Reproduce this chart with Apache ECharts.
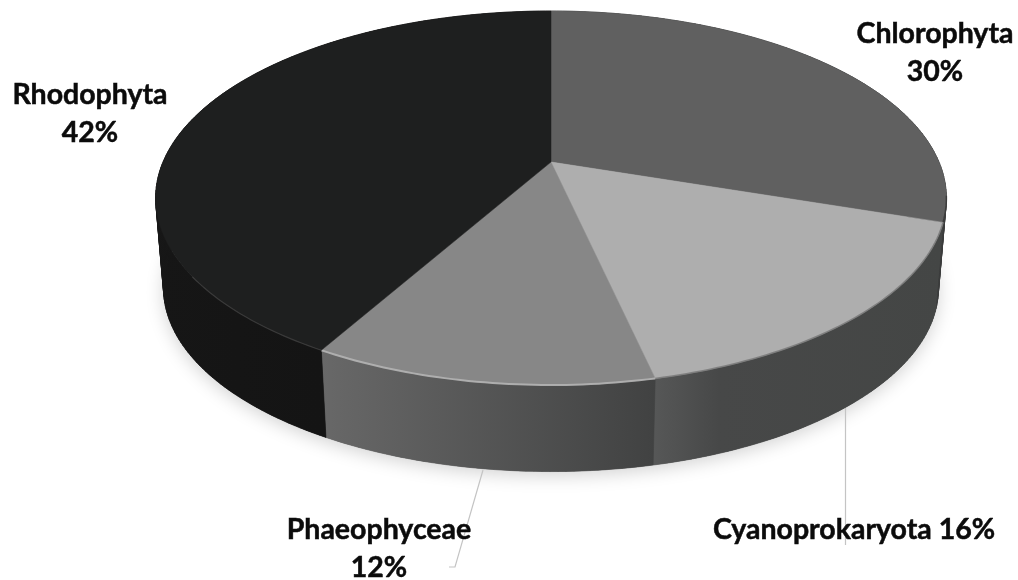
<!DOCTYPE html>
<html><head><meta charset="utf-8">
<style>html,body{margin:0;padding:0;background:#fff}#c{width:1018px;height:580px}</style>
<script src="https://cdn.jsdelivr.net/npm/echarts@6/dist/echarts.min.js"></script>
</head><body><div id="c"></div>
<script>
// Data (labels show the rounded percentages)
var categories = ['Chlorophyta', 'Cyanoprokaryota', 'Phaeophyceae', 'Rhodophyta'];
var values = [30.1, 16.4, 11.7, 41.8];

// Styles
var topColors = ['#606060', '#aeaeae', '#878787', '#1e1f1f'];
var wallStops = [
  [[0, '#3a3b3b'], [1, '#3a3b3b']],
  [[0, '#565757'], [0.22, '#474848'], [1, '#444645']],
  [[0, '#686868'], [1, '#414242']],
  [[0, '#161616'], [1, '#141414']]
];
var rimColors = ['#3a3a3a', '#7c7c7c', '#b4b4b4', '#3c3c3c'];
var rimWidths = [1.5, 1.5, 2, 1.2];
var rimStartY = [195, 195, 195, 275];

// Projection of the disc
var P = {cx: 551, cy: 162, R: 388, a: 148.9, c: -0.1925, wallScale: 0.98, wallCy: 253};
function project(deg) {
  var t = deg * Math.PI / 180, u = Math.sin(t), v = -Math.cos(t), d = 1 + P.c * v;
  return [P.cx + P.R * u / d, (P.a * v + P.cy) / d];
}
function lower(p) {
  return [P.cx + (p[0] - P.cx) * P.wallScale, P.wallCy + (p[1] - P.cy) * P.wallScale];
}
var total = values.reduce(function (s, v) { return s + v; }, 0);
function sliceRange(i) {
  var before = 0;
  for (var k = 0; k < i; k++) before += values[k];
  return [before / total * 360, (before + values[i]) / total * 360];
}
function arc(a0, a1) {
  var pts = [], n = Math.max(2, Math.ceil(Math.abs(a1 - a0)));
  for (var k = 0; k <= n; k++) pts.push(project(a0 + (a1 - a0) * k / n));
  return pts;
}
function toPx(api, pts) { return pts.map(function (p) { return api.coord(p); }); }

var seriesData = categories.map(function (name, i) { return {name: name, value: values[i]}; });

// Label layout: [centre x, centre y, text separator]
var labelLayout = [[935, 53, '\n'], [854, 530, ' '], [379, 549, '\n'], [90, 114, '\n']];
// Leader lines, pie to label
var leaders = [null, [[845.5, 400], [845.5, 545]], [[483, 470], [455, 567], [449, 567]], null];

function horiz(px, stops) {
  var xs = px.map(function (p) { return p[0]; });
  var lo = Math.min.apply(null, xs), hi = Math.max.apply(null, xs);
  return {type: 'linear', x: lo, y: 0, x2: hi, y2: 0, global: true,
    colorStops: stops.map(function (s) { return {offset: s[0], color: s[1]}; })};
}

var option = {
  animation: false,
  backgroundColor: '#ffffff',
  tooltip: {show: false},
  grid: {left: 0, right: 0, top: 0, bottom: 0},
  xAxis: {type: 'value', min: 0, max: 1018, show: false},
  yAxis: {type: 'value', min: 0, max: 580, inverse: true, show: false},
  series: [
    { // soft shadow under the disc
      type: 'custom', coordinateSystem: 'cartesian2d', silent: true, z: 1, clip: false,
      data: [0],
      renderItem: function (params, api) {
        var pts = arc(0, 360).map(lower);
        return {type: 'polygon', shape: {points: toPx(api, pts)},
          style: {fill: '#d8d8d8', shadowColor: 'rgba(0,0,0,0.18)', shadowBlur: 18, shadowOffsetX: 0, shadowOffsetY: 4}};
      }
    },
    { // leader lines
      type: 'custom', coordinateSystem: 'cartesian2d', silent: true, z: 2, clip: false,
      data: seriesData,
      renderItem: function (params, api) {
        var l = leaders[params.dataIndex];
        if (!l) return {type: 'group', children: []};
        return {type: 'polyline', shape: {points: toPx(api, l)},
          style: {fill: null, stroke: '#c4c4c4', lineWidth: 1.2}};
      }
    },
    { // side walls: one quad per step, so the silhouette stays straight at the edges
      type: 'custom', coordinateSystem: 'cartesian2d', silent: true, z: 3, clip: false,
      data: seriesData,
      renderItem: function (params, api) {
        var i = params.dataIndex, r = sliceRange(i);
        var top = arc(r[0], r[1]);
        var front = toPx(api, arc(Math.max(r[0], 101), Math.min(r[1], 281)));
        var fill = horiz(front, wallStops[i]);
        var kids = [{type: 'polygon',
          shape: {points: toPx(api, top.concat(top.slice().reverse().map(lower)))},
          style: {fill: fill}}];
        for (var k = 0; k + 1 < top.length; k++) {
          kids.push({type: 'polygon',
            shape: {points: toPx(api, [top[k], top[k + 1], lower(top[k + 1]), lower(top[k])])},
            style: {fill: fill, stroke: fill, lineWidth: 0.6}});
        }
        return {type: 'group', children: kids};
      }
    },
    { // top faces
      type: 'custom', coordinateSystem: 'cartesian2d', silent: true, z: 4, clip: false,
      data: seriesData,
      renderItem: function (params, api) {
        var i = params.dataIndex, r = sliceRange(i);
        var rim = arc(r[0], r[1]);
        var front = rim.filter(function (p) { return p[1] > rimStartY[i]; });
        var kids = [{type: 'polygon',
          shape: {points: toPx(api, [[P.cx, P.cy]].concat(rim))},
          style: {fill: topColors[i], stroke: topColors[i], lineWidth: 0.5}}];
        if (front.length > 1) {
          kids.push({type: 'polyline', shape: {points: toPx(api, front)},
            style: {fill: null, stroke: rimColors[i], lineWidth: rimWidths[i], opacity: 0.9}});
        }
        return {type: 'group', children: kids};
      }
    },
    { // labels
      type: 'custom', coordinateSystem: 'cartesian2d', silent: true, z: 5, clip: false,
      data: seriesData,
      renderItem: function (params, api) {
        var i = params.dataIndex, l = labelLayout[i];
        var c = api.coord([l[0], l[1]]);
        return {type: 'text', style: {
          text: categories[i] + l[2] + Math.round(values[i] / total * 100) + '%',
          x: c[0], y: c[1], align: 'center', verticalAlign: 'middle',
          font: 'bold 28.5px Lato, "Noto Sans", sans-serif', lineHeight: 38,
          fill: '#0b0b0b', stroke: '#0b0b0b', lineWidth: 0.5}};
      }
    }
  ]
};
var chart = echarts.init(document.getElementById('c'), null, {renderer: 'canvas', width: 1018, height: 580});
chart.setOption(option);
</script></body></html>
